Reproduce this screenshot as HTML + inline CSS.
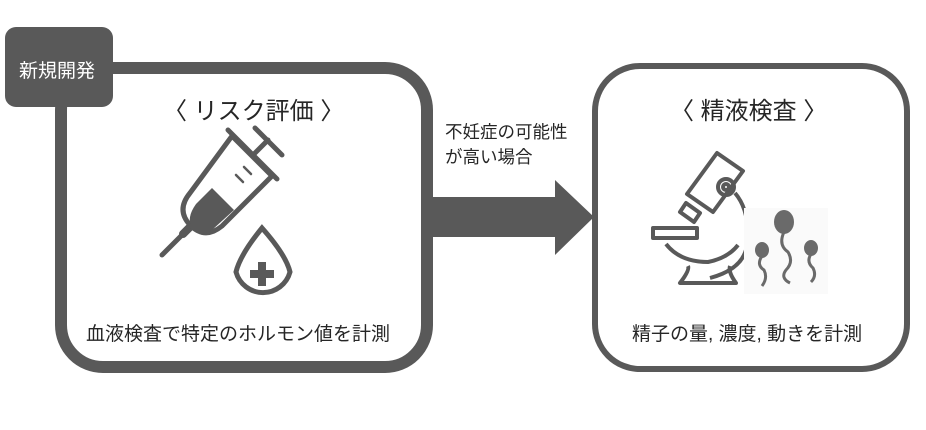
<!DOCTYPE html>
<html><head><meta charset="utf-8"><style>
body{margin:0;background:#fff;width:926px;height:430px;overflow:hidden;position:relative;font-family:"Liberation Sans","Noto Sans CJK JP",sans-serif;color:#262626}
.t{position:absolute;white-space:nowrap}
</style></head><body>
<svg width="926" height="430" style="position:absolute;left:0;top:0">
<rect x="61" y="68" width="366" height="299" rx="42" fill="#fff" stroke="#595959" stroke-width="12"/>
<rect x="595" y="66" width="312" height="303" rx="45" fill="#fff" stroke="#595959" stroke-width="6"/>
<rect x="5" y="27" width="108" height="80" rx="11" fill="#595959"/>
<polygon points="433,197 555,197 555,180 594,217 555,255 555,237 433,237" fill="#595959"/>
<g stroke="#595959" fill="none" stroke-width="5" stroke-linecap="round">
<line x1="162" y1="255" x2="185" y2="232"/>
<line x1="183" y1="234" x2="192" y2="225" stroke-width="8"/>
<path d="M232 136 L272 176 L222 226 Q205 240 190 225 Q176 210 190 193 Z" stroke-linejoin="round"/>
<line x1="228" y1="130" x2="277" y2="179"/>
<line x1="254" y1="154" x2="268" y2="140"/>
<line x1="255" y1="128" x2="282" y2="155"/>
<line x1="236" y1="175" x2="243" y2="182" stroke-width="2.5"/>
<line x1="244" y1="167" x2="251" y2="174" stroke-width="2.5"/>
</g>
<path d="M212 188 L234 210 L212 230 Q200 238 192 228 Q186 218 196 204 Z" fill="#595959"/>
<path d="M262 228 Q240 255 236 272 A28 28 0 0 0 290 272 Q286 255 262 228 Z" fill="none" stroke="#595959" stroke-width="5"/>
<rect x="258" y="262" width="8" height="24" fill="#595959"/><rect x="250" y="270" width="24" height="8" fill="#595959"/>
<g stroke="#595959" fill="none" stroke-width="4" stroke-linejoin="round">
<path d="M717 153 L743 171 L713 212 L687 194 Z"/>
<path d="M686 203 L700 213 L694 222 L680 212 Z"/>
<circle cx="726" cy="187" r="8"/><circle cx="726" cy="187" r="3"/>
<path d="M735 193 Q752 213 746 250 Q740 270 710 278"/>
<rect x="653" y="228" width="44" height="10"/>
<path d="M666 244 Q680 262 708 262 Q728 258 738 245"/>
<path d="M688 266 Q690 270 680 283 L736 283 Q728 272 730 266"/>
</g>
<rect x="744" y="208" width="84" height="86" fill="#fafafa"/>
<g fill="#6a6a6a"><ellipse cx="784" cy="222" rx="10" ry="12"/><ellipse cx="762" cy="250" rx="7" ry="8"/><ellipse cx="811" cy="248" rx="7" ry="8"/></g>
<g stroke="#6a6a6a" fill="none" stroke-width="3"><path d="M784 232 Q778 245 788 252 Q794 262 786 270 Q780 278 790 283"/><path d="M762 256 Q756 265 764 270 Q768 278 762 286"/><path d="M811 254 Q806 262 813 268 Q817 276 811 282"/></g>
</svg>
<div class="t" style="left:19px;top:56px;font-size:19px;color:#fff">新規開発</div>
<div class="t" style="left:163px;top:91px;font-size:24px">〈 リスク評価 〉</div>
<div class="t" style="left:86px;top:319px;font-size:19px">血液検査で特定のホルモン値を計測</div>
<div class="t" style="left:670px;top:91px;font-size:24px">〈 精液検査 〉</div>
<div class="t" style="left:632px;top:319px;font-size:19px">精子の量, 濃度, 動きを計測</div>
<div class="t" style="left:445px;top:120px;font-size:17.5px;line-height:25px">不妊症の可能性<br>が高い場合</div>
</body></html>
